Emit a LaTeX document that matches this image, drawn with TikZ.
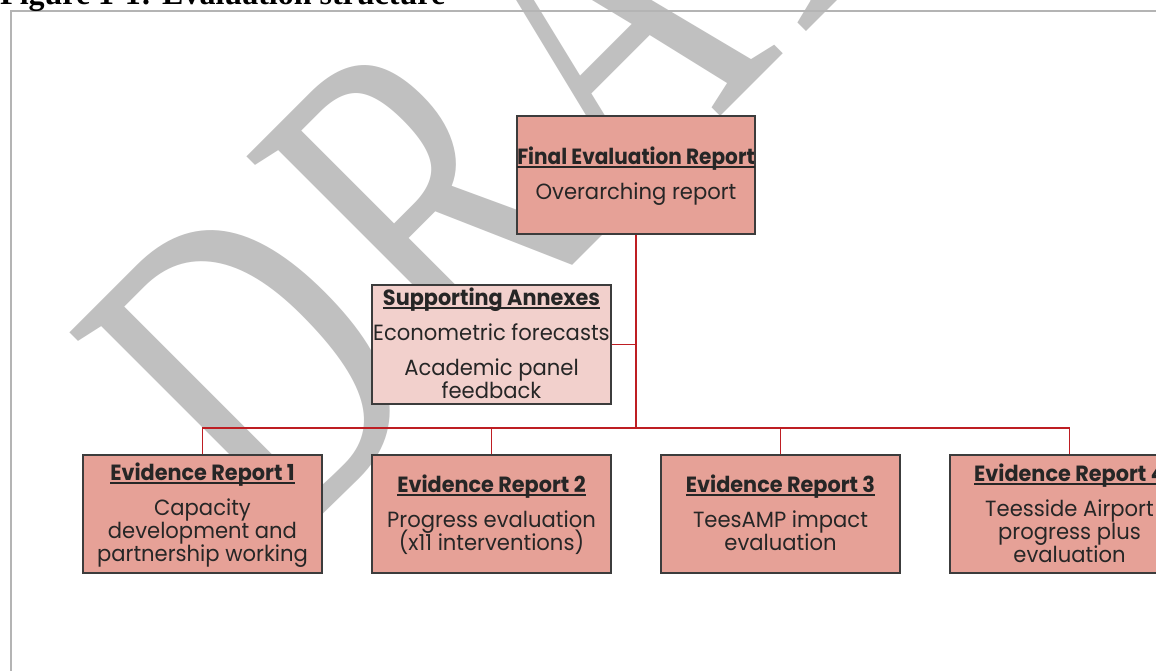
\documentclass[tikz,border=0pt]{standalone}
\usepackage{graphicx}
\usepackage{fontspec}
\setmainfont{Poppins}[FakeStretch=0.96, BoldFeatures={FakeStretch=0.945}]
\newfontfamily\wmfont{Liberation Serif}[LetterSpace=5.9]
\newfontfamily\titlefont{Liberation Serif}
\definecolor{boxfill}{RGB}{230,161,151}
\definecolor{annexfill}{RGB}{242,208,204}
\definecolor{boxline}{RGB}{60,60,60}
\definecolor{linkred}{RGB}{190,30,35}
\definecolor{framegray}{RGB}{180,180,180}
\definecolor{wmgray}{RGB}{192,192,192}
\definecolor{txt}{RGB}{38,38,38}
\newsavebox\hdbox
\newcommand\hd[2][1]{\sbox\hdbox{\scalebox{#1}[1]{\bfseries #2}}\rlap{\rule[-3.5pt]{\wd\hdbox}{1.6pt}}\usebox\hdbox}
\newcommand\sx{\rule[-4pt]{0pt}{23pt}}
\tikzset{
  box/.style={draw=boxline, line width=1.3pt, fill=boxfill, inner sep=0pt,
    minimum width=239pt, minimum height=118pt, align=center, text=txt,
    font=\fontsize{22}{23}\selectfont},
  annexbox/.style={box, fill=annexfill},
  link/.style={draw=linkred, line width=1.4pt},
  wm/.style={text=wmgray, inner sep=0pt, transform shape,
    font=\wmfont\fontsize{469}{469}\selectfont},
}
\begin{document}
\begin{tikzpicture}[x=1pt,y=-1pt]
\lineskiplimit=-50pt
\useasboundingbox (0,0) rectangle (1156,670);
\clip (0,0) rectangle (1156,670);
\fill[white] (0,0) rectangle (1156,670);
% watermark
\begin{scope}[shift={(280.4,556.8)}, cm={0.4825,0.4825,-0.7071,0.7071,(0,0)}]
\node[wm, anchor=base west] (wmark) at (0,0) {DRAFT};
\end{scope}
% frame and title
\draw[framegray, line width=2pt] (11,700) -- (11,11) -- (1200,11);
\node[anchor=base west, inner sep=0pt, font=\titlefont\bfseries\fontsize{32}{32}\selectfont] (title) at (0,4) {Figure 1-1: Evaluation structure};
% boxes
\node[box, minimum width=238pt] (final) at (636,175) {\sx\hd[0.965]{Final Evaluation Report}\\[12pt]\sx Overarching report};
\node[annexbox, minimum height=119pt] (annex) at (491.5,344.5) {\sx\hd{Supporting Annexes}\\[12pt]\sx Econometric forecasts\\[12pt]\sx Academic panel\\\sx feedback};
\node[box] (er1) at (202.5,514) {\sx\hd{Evidence Report 1}\\[12pt]\sx Capacity\\\sx development and\\\sx partnership working};
\node[box] (er2) at (491.5,514) {\sx\hd{Evidence Report 2}\\[12pt]\sx Progress evaluation\\\sx (x11 interventions)};
\node[box] (er3) at (780.5,514) {\sx\hd{Evidence Report 3}\\[12pt]\sx TeesAMP impact\\\sx evaluation};
\node[box] (er4) at (1069.5,514) {\sx\hd{Evidence Report 4}\\[12pt]\sx Teesside Airport\\\sx progress plus\\\sx evaluation};
% connectors
\coordinate (hub) at (636,428);
\draw[link, line width=1.8pt] (final.south) -- (hub);
\draw[link] (annex.east) -- (annex.east -| final.south);
\draw[link] (er1.north) -- (er1.north |- hub) -- (er4.north |- hub) -- (er4.north);
\draw[link] (er2.north) -- (er2.north |- hub);
\draw[link] (er3.north) -- (er3.north |- hub);
\end{tikzpicture}
\end{document}
